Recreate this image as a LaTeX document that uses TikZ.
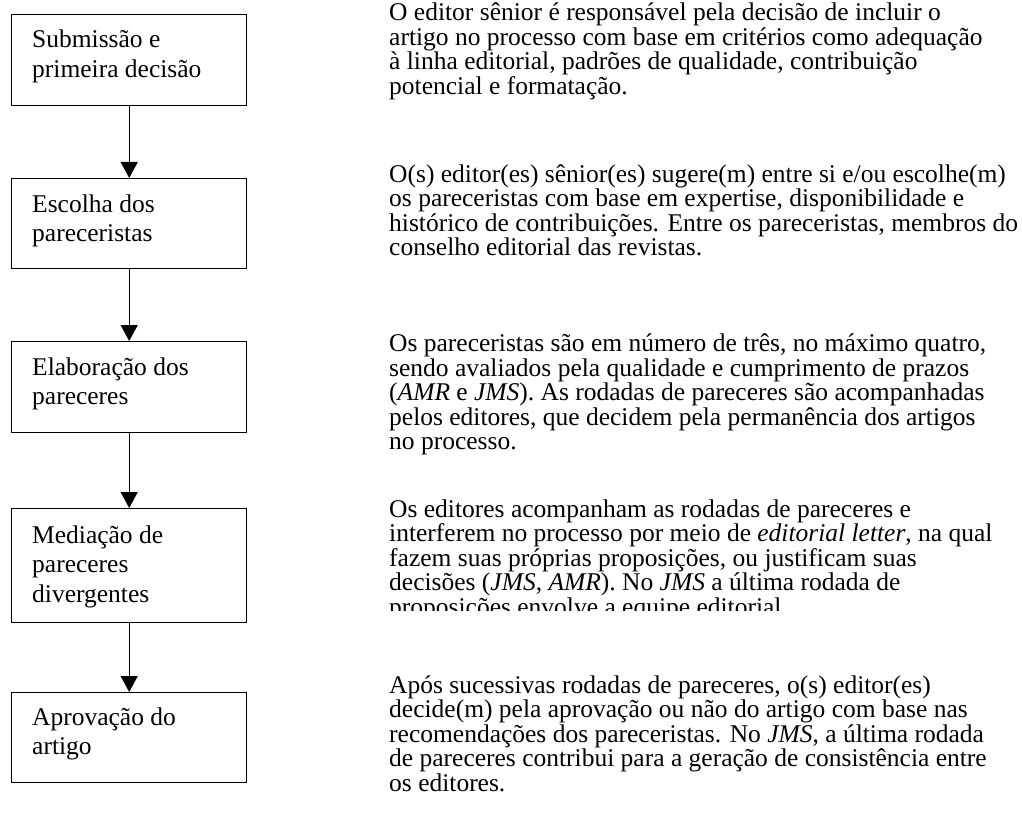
\documentclass[tikz,border=0pt]{standalone}
\usepackage{fontspec}
\setmainfont{Liberation Serif}
\usetikzlibrary{arrows.meta,calc}
\begin{document}
\begin{tikzpicture}[x=1pt,y=-1pt,
  stepbox/.style={draw, line width=1.4pt, minimum width=235pt, anchor=north west, inner sep=0pt},
  flow/.style={-{Triangle[width=17pt,length=16pt]}, line width=1.3pt},
  boxtext/.style={anchor=base west, inner sep=0pt, font=\fontsize{25.5}{29.5}\selectfont},
  desc/.style={anchor=base west, inner sep=0pt, font=\fontsize{25.5}{24.5}\selectfont}]
\useasboundingbox (0,0) rectangle (1022,821);

% boxes
\node[stepbox, minimum height=91pt] (b1) at (11,14) {};
\node[stepbox, minimum height=90pt] (b2) at (11,178) {};
\node[stepbox, minimum height=91pt] (b3) at (11,341) {};
\node[stepbox, minimum height=114pt] (b4) at (11,508) {};
\node[stepbox, minimum height=90pt] (b5) at (11,692) {};

% box texts
\node[boxtext] (t1) at ($(b1.north west)+(21,34)$) {\parbox[t]{220pt}{Submissão e\\primeira decisão}};
\node[boxtext] (t2) at ($(b2.north west)+(21,34)$) {\parbox[t]{220pt}{Escolha dos\\pareceristas}};
\node[boxtext] (t3) at ($(b3.north west)+(21,34)$) {\parbox[t]{220pt}{Elaboração dos\\pareceres}};
\node[boxtext] (t4) at ($(b4.north west)+(21,35)$) {\parbox[t]{220pt}{Mediação de\\pareceres\\divergentes}};
\node[boxtext] (t5) at ($(b5.north west)+(21,33)$) {\parbox[t]{220pt}{Aprovação do\\artigo}};

% arrows
\draw[flow] (b1.south) -- (b2.north);
\draw[flow] (b2.south) -- (b3.north);
\draw[flow] (b3.south) -- (b4.north);
\draw[flow] (b4.south) -- (b5.north);

% descriptions
\node[desc] (d1) at (389,21) {\parbox[t]{700pt}{O editor sênior é responsável pela decisão de incluir o\\artigo no processo com base em critérios como adequação\\à linha editorial, padrões de qualidade, contribuição\\potencial e formatação.}};
\node[desc] (d2) at (389,182.5) {\parbox[t]{700pt}{O(s) editor(es) sênior(es) sugere(m) entre si e/ou escolhe(m)\\os pareceristas com base em expertise, disponibilidade e\\histórico de contribuições. Entre os pareceristas, membros do\\conselho editorial das revistas.}};
\node[desc] (d3) at (389,351.5) {\parbox[t]{700pt}{Os pareceristas são em número de três, no máximo quatro,\\sendo avaliados pela qualidade e cumprimento de prazos\\(\textit{AMR} e \textit{JMS}). As rodadas de pareceres são acompanhadas\\pelos editores, que decidem pela permanência dos artigos\\no processo.}};
\begin{scope}
\clip (380,490) rectangle (1022,610);
\node[desc] (d4) at (389,517) {\parbox[t]{700pt}{Os editores acompanham as rodadas de pareceres e\\interferem no processo por meio de \textit{editorial letter}, na qual\\fazem suas próprias proposições, ou justificam suas\\decisões (\textit{JMS}, \textit{AMR}). No \textit{JMS} a última rodada de\\proposições envolve a equipe editorial.}};
\end{scope}
\node[desc] (d5) at (389,693) {\parbox[t]{700pt}{Após sucessivas rodadas de pareceres, o(s) editor(es)\\decide(m) pela aprovação ou não do artigo com base nas\\recomendações dos pareceristas. No \textit{JMS}, a última rodada\\de pareceres contribui para a geração de consistência entre\\os editores.}};
\end{tikzpicture}
\end{document}
